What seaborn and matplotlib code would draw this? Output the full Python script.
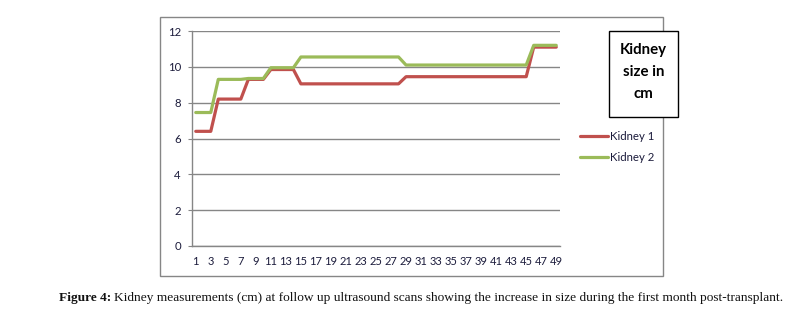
import matplotlib
matplotlib.use("Agg")
import matplotlib.pyplot as plt
from matplotlib.patches import Rectangle
from matplotlib.ticker import FixedLocator, NullFormatter
import numpy as np
import pandas as pd
import seaborn as sns

# Follow-up scan index (1..49)
scans = list(range(1, 50))

# Kidney sizes in cm at each scan
kidney_1 = [6.4, 6.4, 6.4,
            8.2, 8.2, 8.2, 8.2,
            9.3, 9.3, 9.3,
            9.85, 9.85, 9.85, 9.85,
            9.05, 9.05, 9.05, 9.05, 9.05, 9.05, 9.05, 9.05, 9.05, 9.05, 9.05, 9.05, 9.05, 9.05,
            9.45, 9.45, 9.45, 9.45, 9.45, 9.45, 9.45, 9.45, 9.45, 9.45, 9.45, 9.45, 9.45, 9.45,
            9.45, 9.45, 9.45,
            11.1, 11.1, 11.1, 11.1]
kidney_2 = [7.45, 7.45, 7.45,
            9.3, 9.3, 9.3, 9.3,
            9.35, 9.35, 9.35,
            9.95, 9.95, 9.95, 9.95,
            10.55, 10.55, 10.55, 10.55, 10.55, 10.55, 10.55, 10.55, 10.55, 10.55, 10.55, 10.55,
            10.55, 10.55,
            10.1, 10.1, 10.1, 10.1, 10.1, 10.1, 10.1, 10.1, 10.1, 10.1, 10.1, 10.1, 10.1, 10.1,
            10.1, 10.1, 10.1,
            11.2, 11.2, 11.2, 11.2]

series_names = ["Kidney 1", "Kidney 2"]
series_colors = ["#C0504D", "#9BBB59"]
y_ticks = [0, 2, 4, 6, 8, 10, 12]
x_labels = [str(v) for v in scans if v % 2 == 1]

df = pd.DataFrame({
    "scan": scans * 2,
    "size": kidney_1 + kidney_2,
    "kidney": [series_names[0]] * len(scans) + [series_names[1]] * len(scans),
})

sns.set_style("white")
plt.rcParams["font.family"] = ["Lato", "DejaVu Sans"]

W, H = 812, 322
fig = plt.figure(figsize=(W / 100, H / 100), dpi=100)

def fx(px):
    return px / W

def fy(py):
    return 1 - py / H

# Chart frame
fig.patches.append(Rectangle((fx(160), fy(276)), fx(663) - fx(160), fy(17) - fy(276),
                             transform=fig.transFigure, fill=False,
                             edgecolor="#868686", linewidth=1.0, zorder=0))

ax = fig.add_axes([fx(192), fy(246), fx(560) - fx(192), fy(31) - fy(246)])

sns.lineplot(data=df, x="scan", y="size", hue="kidney", palette=series_colors,
             hue_order=series_names, linewidth=2.3, ax=ax, legend=True)

grid_c = "#868686"
text_c = "#1c1c3c"
ax.set_xlim(0.5, 49.5)
ax.set_ylim(0, 12)
ax.set_yticks(y_ticks)
ax.set_yticklabels([str(v) for v in y_ticks], fontsize=8.2, color=text_c)
ax.yaxis.grid(True, color=grid_c, linewidth=1.0)
ax.set_axisbelow(True)

# Category labels on odd scans, tick marks between categories
ax.xaxis.set_major_locator(FixedLocator([v for v in scans if v % 2 == 1]))
ax.set_xticklabels(x_labels, fontsize=8.0, color=text_c)
ax.xaxis.set_minor_locator(FixedLocator(np.arange(0.5, 50, 1.0)))
ax.xaxis.set_minor_formatter(NullFormatter())
ax.tick_params(axis="x", which="major", length=0, pad=7.5)
ax.tick_params(axis="x", which="minor", length=3, width=0.8, color=grid_c, direction="out")
ax.tick_params(axis="y", which="major", length=3, width=0.8, color=grid_c, pad=5, left=True)
ax.set_xlabel("")
ax.set_ylabel("")

for side in ["top", "right"]:
    ax.spines[side].set_visible(False)
for side in ["left", "bottom"]:
    ax.spines[side].set_color(grid_c)
    ax.spines[side].set_linewidth(1.0)

handles, labels = ax.get_legend_handles_labels()
ax.legend(handles, labels, loc="upper left", bbox_to_anchor=(fx(580.5), fy(131)),
          bbox_transform=fig.transFigure, frameon=False, fontsize=8.2,
          handlelength=2.45, handletextpad=0.1, labelspacing=0.9,
          borderpad=0, borderaxespad=0, labelcolor=text_c)

# Legend title box
fig.patches.append(Rectangle((fx(609), fy(117)), fx(678) - fx(609), fy(31) - fy(117),
                             transform=fig.transFigure, fill=True, facecolor="white",
                             edgecolor="black", linewidth=1.0, zorder=3))
fig.text(fx(643.5), fy(72), "Kidney\nsize in\ncm", ha="center", va="center",
         fontsize=10.8, fontweight="bold", color="black", linespacing=1.7, zorder=4)

# Caption
cap_y = fy(298)
bold_part = fig.text(fx(59), cap_y, "Figure 4:", ha="left", va="center",
                     fontsize=9.6, fontweight="bold", family="Liberation Serif", color="#111111")
fig.canvas.draw()
bb = bold_part.get_window_extent()
fig.text((bb.x1 + 3) / W, cap_y,
         "Kidney measurements (cm) at follow up ultrasound scans showing the increase in size "
         "during the first month post-transplant.",
         ha="left", va="center", fontsize=9.6, family="Liberation Serif", color="#111111")

fig.savefig("out.png", dpi=100)
